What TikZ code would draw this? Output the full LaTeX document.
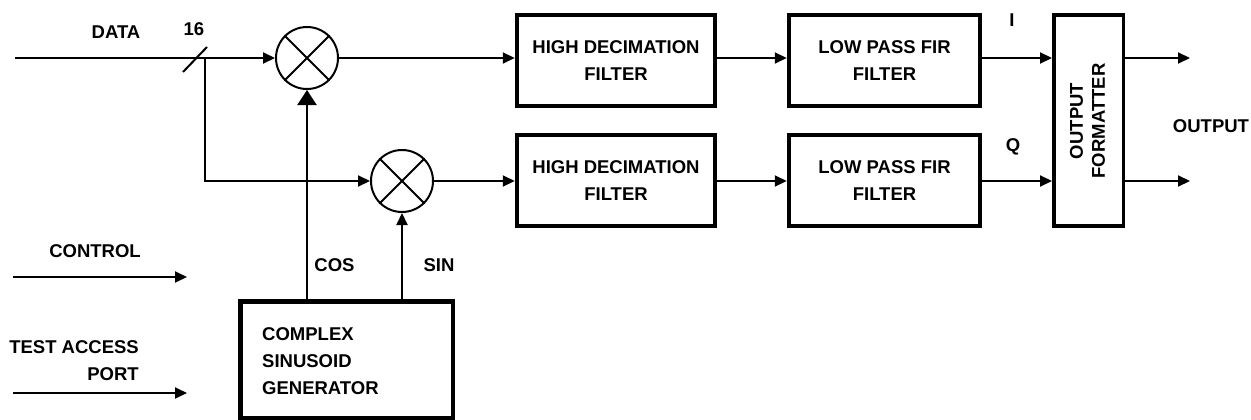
\documentclass[tikz,border=0pt]{standalone}
\usepackage{fontspec}
\setmainfont{Liberation Sans}
\usetikzlibrary{arrows.meta}
\begin{document}
\begin{tikzpicture}[x=1pt,y=-1pt,
  lbl/.style={font=\fontsize{18.5}{27}\selectfont\bfseries, inner sep=0},
  blk/.style={draw, line width=4.5pt, inner sep=0, align=center, font=\fontsize{18.5}{27}\selectfont\bfseries},
  wire/.style={line width=2pt},
  arr/.style={wire, -{Triangle[length=12pt,width=11pt]}},
  bigarr/.style={wire, -{Triangle[length=15pt,width=19pt]}},
  mix/.style={circle, draw, line width=2pt, minimum size=62pt, inner sep=0}]
\useasboundingbox (0,0) rectangle (1251,420);

% mixers
\node[mix] (m1) at (307,58) {};
\node[mix] (m2) at (402,181) {};
\draw[wire] (m1.north east) -- (m1.south west) (m1.north west) -- (m1.south east);
\draw[wire] (m2.north east) -- (m2.south west) (m2.north west) -- (m2.south east);

% blocks
\node[blk, minimum width=198pt, minimum height=91pt] (hd1) at (616,60.5) {HIGH DECIMATION\\FILTER};
\node[blk, minimum width=198pt, minimum height=91pt] (hd2) at (616,180.5) {HIGH DECIMATION\\FILTER};
\node[blk, minimum width=191pt, minimum height=91pt] (lp1) at (884.5,60.5) {LOW PASS FIR\\FILTER};
\node[blk, minimum width=191pt, minimum height=91pt] (lp2) at (884.5,180.5) {LOW PASS FIR\\FILTER};
\node[blk, line width=3.5pt, minimum width=69.5pt, minimum height=211pt] (fmt) at (1088.5,120.5) {};
\node[lbl, rotate=90, align=center] (fmtt) at (1087.5,121) {OUTPUT\\[-5pt]FORMATTER};
\node[draw, line width=4.5pt, inner sep=0, minimum width=212.5pt, minimum height=116.5pt] (gen) at (346.5,359.5) {};
\node[lbl, align=left, anchor=west] (gent) at (262,361.5) {COMPLEX\\SINUSOID\\GENERATOR};

% coordinates
\coordinate (din) at (15,58);
\coordinate (br) at (205,58);
\coordinate (t1) at (183,72);
\coordinate (t2) at (207,47);
\coordinate (cin) at (13,277);
\coordinate (cout) at (187,277);
\coordinate (tin) at (13,393);
\coordinate (tout) at (187,393);
\coordinate (o1) at (1190,58);
\coordinate (o2) at (1190,181);

% wires
\draw[arr] (din) -- (m1.west);
\draw[wire] (t1) -- (t2);
\draw[arr] (br) |- (m2.west);
\draw[arr] (m1.east) -- (m1.east -| hd1.west);
\draw[arr] (m2.east) -- (m2.east -| hd2.west);
\draw[arr] (hd1.east |- m1) -- (lp1.west |- m1);
\draw[arr] (hd2.east |- m2) -- (lp2.west |- m2);
\draw[arr] (lp1.east |- m1) -- (fmt.west |- m1);
\draw[arr] (lp2.east |- m2) -- (fmt.west |- m2);
\draw[arr] (fmt.east |- o1) -- (o1);
\draw[arr] (fmt.east |- o2) -- (o2);
\draw[bigarr] (m1.south |- gen.north) -- (m1.south);
\draw[arr] (m2.south |- gen.north) -- (m2.south);
\draw[arr] (cin) -- (cout);
\draw[arr] (tin) -- (tout);

% labels
\node[lbl] (ldata) at (116,32) {DATA};
\node[lbl] (l16) at (194,29) {16};
\node[lbl] (lctl) at (95,251) {CONTROL};
\node[lbl, align=right, anchor=east] (ltap) at (139,360.5) {TEST ACCESS\\PORT};
\node[lbl] (lcos) at (334.5,265) {COS};
\node[lbl] (lsin) at (439,265.5) {SIN};
\node[lbl] (li) at (1012,20) {I};
\node[lbl] (lq) at (1013,147) {Q};
\node[lbl] (lout) at (1211,126) {OUTPUT};
\end{tikzpicture}
\end{document}
